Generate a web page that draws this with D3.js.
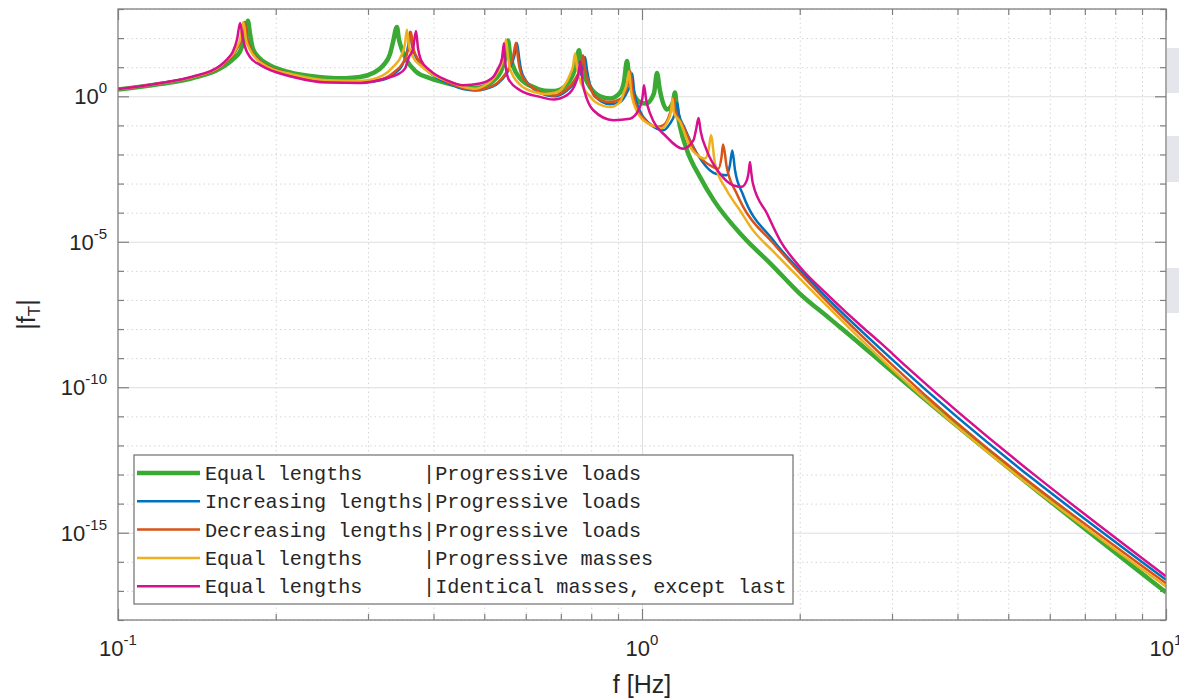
<!DOCTYPE html>
<html lang="en">
<head>
<meta charset="utf-8">
<title>|fT| transfer function</title>
<script src="https://cdn.jsdelivr.net/npm/d3@7"></script>
<style>
    body { margin: 0; background: #fff; }
    svg { display: block; font-family: "Liberation Sans", Arial, sans-serif; }
    .grid-major line { stroke: #dedede; stroke-width: 1; }
    .grid-minor line { stroke: #d6d6d6; stroke-width: 1; stroke-dasharray: 1.5 3; }
    .ticks line { stroke: #7f7f7f; stroke-width: 1.2; }
    .tick-label { fill: #262626; font-size: 22px; }
    .axis-label { fill: #262626; font-size: 25px; }
    .legend text { font-family: "Liberation Mono", monospace; font-size: 20.2px; fill: #262626; white-space: pre; }
</style>
</head>
<body>
<svg id="chart" width="1179" height="699"></svg>
<script>
// axis ranges and ticks
var freqDomain = [0.1, 10];
var magDomain = [1e-18, 1e3];
var xMajor = [0.1, 1, 10];
var xMinor = [0.2, 0.3, 0.4, 0.5, 0.6, 0.7, 0.8, 0.9, 2, 3, 4, 5, 6, 7, 8, 9];
var xLabelExp = [-1, 0, 1];
var yMajorExp = [0, -5, -10, -15];
var yMinorExp = d3.range(-18, 4).filter(function(e) { return e % 5 !== 0; });

// legend text
var legendLeft = ["Equal lengths", "Increasing lengths", "Decreasing lengths", "Equal lengths", "Equal lengths"];
var legendRight = ["Progressive loads", "Progressive loads", "Progressive loads", "Progressive masses", "Identical masses, except last"];
var seriesColors = ["#3aaa35", "#0072bd", "#d95319", "#edb120", "#d6108f"];
var seriesWidths = [4.5, 2.5, 2.5, 2.5, 2.5];

// [f in Hz, log10 |fT|]
var equalLoads = [
    [0.100,0.23],[0.120,0.42],[0.139,0.63],[0.1565,0.95],[0.1658,1.28],[0.171,1.55],[0.1745,2.0],[0.177,2.6],
    [0.1786,2.15],[0.181,1.62],[0.1866,1.3],[0.1925,1.12],[0.2084,0.86],[0.2325,0.70],[0.2506,0.64],[0.2712,0.62],
    [0.2896,0.66],[0.3067,0.8],[0.3203,1.05],[0.3304,1.45],[0.3347,1.85],[0.3406,2.38],[0.3437,1.95],[0.3483,1.6],
    [0.356,1.22],[0.3704,0.85],[0.3939,0.62],[0.430,0.42],[0.4555,0.33],[0.4801,0.29],[0.5018,0.35],[0.5196,0.52],
    [0.5405,0.95],[0.5501,1.45],[0.555,1.92],[0.5599,1.45],[0.5673,1.05],[0.5851,0.62],[0.6246,0.3],[0.6527,0.19],
    [0.6823,0.18],[0.7068,0.28],[0.7291,0.55],[0.7452,0.95],[0.7582,1.58],[0.7649,1.1],[0.7785,0.65],[0.7957,0.32],
    [0.8315,0.0],[0.8689,-0.08],[0.908,0.12],[0.9239,0.5],[0.9362,1.21],[0.9445,0.7],[0.9612,0.15],[0.9912,-0.2],
    [1.018,-0.25],[1.054,0.1],[1.068,0.8],[1.082,0.2],[1.116,-0.45],[1.146,-0.2],[1.156,0.13],[1.166,-0.45],
    [1.182,-1.05],[1.219,-1.86],[1.29,-2.77],[1.37,-3.57],[1.56,-4.83],[1.77,-5.80],[2.0,-6.78],[2.285,-7.65],
    [2.61,-8.52],[2.93,-9.30],[10,-17.05]
];
var increasingLoads = [
    [0.100,0.24],[0.120,0.44],[0.139,0.66],[0.1565,1.0],[0.162,1.25],[0.1658,1.42],[0.1687,1.65],[0.1718,1.95],
    [0.1745,2.55],[0.1766,1.95],[0.18,1.55],[0.1866,1.2],[0.1925,1.05],[0.2158,0.74],[0.251,0.52],[0.29,0.47],
    [0.3203,0.57],[0.3377,0.8],[0.3483,1.05],[0.3545,1.4],[0.358,1.75],[0.361,2.22],[0.3645,1.7],[0.3704,1.35],
    [0.3786,1.1],[0.3939,0.8],[0.43,0.42],[0.4555,0.25],[0.4801,0.2],[0.5018,0.25],[0.5311,0.45],[0.5501,0.75],
    [0.562,1.05],[0.57,1.35],[0.5775,1.82],[0.583,1.3],[0.588,0.9],[0.6,0.55],[0.6246,0.22],[0.6527,0.05],
    [0.6823,0.0],[0.7068,0.1],[0.7291,0.3],[0.7582,0.7],[0.7717,1.0],[0.7785,1.35],[0.7853,0.9],[0.7957,0.4],
    [0.8135,0.0],[0.8689,-0.27],[0.908,-0.2],[0.94,0.2],[0.9528,0.45],[0.958,0.78],[0.966,0.2],[0.9912,-0.5],
    [1.036,-0.95],[1.098,-1.17],[1.13,-0.95],[1.155,-0.6],[1.168,-0.22],[1.176,-0.6],[1.203,-1.05],[1.272,-1.95],
    [1.384,-2.66],[1.451,-2.71],[1.472,-2.35],[1.487,-1.86],[1.505,-2.54],[1.56,-3.4],[1.78,-4.95],[2.12,-6.44],
    [3.11,-9.30],[10,-16.62]
];
var decreasingLoads = [
    [0.100,0.24],[0.120,0.44],[0.139,0.66],[0.1565,1.0],[0.162,1.25],[0.1658,1.42],[0.1687,1.65],[0.1718,1.95],
    [0.1745,2.55],[0.1766,1.95],[0.18,1.55],[0.1866,1.2],[0.1925,1.05],[0.2158,0.74],[0.251,0.52],[0.29,0.48],
    [0.3203,0.6],[0.3377,0.85],[0.3483,1.1],[0.356,1.45],[0.3591,1.75],[0.3623,2.21],[0.3656,1.7],[0.3704,1.4],
    [0.3786,1.15],[0.3939,0.85],[0.43,0.45],[0.4555,0.28],[0.4801,0.22],[0.5018,0.27],[0.5311,0.48],[0.5501,0.8],
    [0.5599,1.05],[0.5673,1.35],[0.5748,1.84],[0.58,1.3],[0.5851,0.9],[0.598,0.55],[0.6246,0.25],[0.6527,0.08],
    [0.6823,0.03],[0.7068,0.15],[0.7291,0.35],[0.7516,0.7],[0.7649,1.0],[0.7717,1.41],[0.7785,0.95],[0.7957,0.35],
    [0.8135,-0.02],[0.8689,-0.2],[0.908,-0.1],[0.9362,0.3],[0.9445,0.55],[0.9507,0.86],[0.958,0.3],[0.9739,-0.3],
    [1.006,-0.75],[1.067,-1.05],[1.097,-1.0],[1.125,-0.7],[1.14,-0.35],[1.15,-0.05],[1.158,-0.5],[1.191,-0.94],
    [1.272,-1.97],[1.348,-2.37],[1.398,-2.49],[1.418,-2.1],[1.428,-1.66],[1.451,-2.43],[1.516,-3.34],[1.56,-3.8],
    [1.78,-5.05],[2.12,-6.55],[3.03,-9.30],[10,-16.74]
];
var equalMasses = [
    [0.100,0.24],[0.120,0.44],[0.139,0.66],[0.1565,1.02],[0.162,1.28],[0.1658,1.45],[0.1687,1.7],[0.171,1.95],
    [0.1735,2.55],[0.1755,1.95],[0.1786,1.6],[0.1834,1.3],[0.1925,1.02],[0.2158,0.75],[0.251,0.55],[0.29,0.53],
    [0.3203,0.72],[0.3347,1.0],[0.3483,1.45],[0.3529,1.8],[0.356,2.29],[0.3591,1.75],[0.3656,1.35],[0.3786,1.05],
    [0.3939,0.8],[0.43,0.5],[0.4555,0.33],[0.4801,0.26],[0.5018,0.38],[0.5196,0.6],[0.5311,0.85],[0.5405,1.15],
    [0.5453,1.45],[0.5501,1.95],[0.555,1.35],[0.5599,0.95],[0.5851,0.4],[0.6246,0.14],[0.6527,0.08],[0.6823,0.12],
    [0.7068,0.3],[0.7291,0.75],[0.7387,1.05],[0.7452,1.47],[0.7516,1.0],[0.7649,0.45],[0.7957,0.0],[0.8135,-0.19],
    [0.8689,-0.37],[0.908,-0.2],[0.9239,0.15],[0.9362,0.45],[0.9445,0.86],[0.9528,0.2],[0.9739,-0.45],[1.006,-0.82],
    [1.067,-1.05],[1.09,-1.1],[1.12,-0.85],[1.135,-0.55],[1.144,-0.08],[1.15,-0.55],[1.182,-0.88],[1.235,-1.74],
    [1.29,-2.08],[1.319,-2.14],[1.34,-1.85],[1.354,-1.34],[1.378,-2.31],[1.451,-3.23],[1.538,-3.92],[1.628,-4.6],
    [1.78,-5.33],[2.12,-6.72],[2.97,-9.30],[10,-16.85]
];
var identicalMasses = [
    [0.100,0.25],[0.120,0.45],[0.139,0.68],[0.1565,1.05],[0.162,1.3],[0.1658,1.55],[0.1687,1.95],[0.171,2.52],
    [0.1732,1.95],[0.1755,1.6],[0.1786,1.35],[0.1866,1.08],[0.1925,0.95],[0.2158,0.66],[0.251,0.47],[0.29,0.46],
    [0.325,0.62],[0.3406,0.74],[0.3529,0.95],[0.3591,1.35],[0.3656,1.62],[0.3704,2.24],[0.3737,1.65],[0.3786,1.25],
    [0.3939,0.89],[0.4238,0.55],[0.4555,0.38],[0.4907,0.44],[0.5196,0.66],[0.5311,0.95],[0.5405,1.3],[0.5453,1.82],
    [0.5475,1.3],[0.5558,0.6],[0.5851,0.21],[0.6387,-0.02],[0.677,-0.11],[0.718,0.03],[0.7505,0.55],[0.7582,0.9],
    [0.762,1.2],[0.7717,0.4],[0.7853,-0.1],[0.8074,-0.48],[0.8814,-0.82],[0.9486,-0.77],[0.9912,-0.37],[1.002,-0.05],
    [1.0088,0.38],[1.018,-0.1],[1.036,-0.59],[1.115,-1.40],[1.199,-1.80],[1.254,-1.51],[1.268,-1.15],[1.282,-0.75],
    [1.294,-1.2],[1.329,-1.86],[1.409,-2.66],[1.494,-3.06],[1.55,-3.11],[1.585,-2.89],[1.598,-2.6],[1.607,-2.26],
    [1.617,-2.65],[1.628,-3.0],[1.732,-4.03],[1.834,-4.95],[2.0,-5.86],[2.285,-6.90],[2.63,-7.92],[2.846,-8.46],
    [3.2,-9.30],[10,-16.50]
];
var seriesData = [equalLoads, increasingLoads, decreasingLoads, equalMasses, identicalMasses];

var margin = { top: 9, left: 118 },
    width = 1048,
    height = 611;

var svg = d3.select("#chart");

// the grey strips along the right edge of the screenshot
svg.selectAll(".strip")
    .data([[48, 45], [136, 46], [268, 45]])
    .enter().append("rect")
    .attr("x", 1167).attr("y", function(d) { return d[0]; })
    .attr("width", 12).attr("height", function(d) { return d[1]; })
    .attr("fill", "#e4e6ec");

var g = svg.append("g")
    .attr("transform", "translate(" + margin.left + "," + margin.top + ")");

var x = d3.scaleLog().domain(freqDomain).range([0, width]);
var y = d3.scaleLog().domain(magDomain).range([height, 0]);
function pow10(e) { return Math.pow(10, e); }

// grid
function grid(cls, axis) {
    var a = g.append("g").attr("class", cls).call(axis);
    a.select(".domain").remove();
    a.selectAll("text").remove();
    return a;
}
grid("grid-minor", d3.axisBottom(x).tickValues(xMinor).tickSize(height).tickFormat(""));
grid("grid-minor", d3.axisLeft(y).tickValues(yMinorExp.map(pow10)).tickSize(-width).tickFormat(""));
grid("grid-major", d3.axisBottom(x).tickValues([1]).tickSize(height).tickFormat(""));
grid("grid-major", d3.axisLeft(y).tickValues(yMajorExp.map(pow10)).tickSize(-width).tickFormat(""));

// curves
g.append("clipPath").attr("id", "plot-clip")
    .append("rect").attr("width", width).attr("height", height);

var line = d3.line()
    .x(function(d) { return x(d[0]); })
    .y(function(d) { return y(pow10(d[1])); })
    .curve(d3.curveMonotoneX);

g.append("g").attr("clip-path", "url(#plot-clip)")
    .selectAll("path")
    .data(seriesData)
    .enter().append("path")
    .attr("d", line)
    .attr("fill", "none")
    .attr("stroke", function(d, i) { return seriesColors[i]; })
    .attr("stroke-width", function(d, i) { return seriesWidths[i]; })
    .attr("stroke-linejoin", "round");

// ticks on all four sides, pointing inward
function ticks(axis, tx, ty) {
    var a = g.append("g").attr("class", "ticks")
        .attr("transform", "translate(" + tx + "," + ty + ")")
        .call(axis);
    a.select(".domain").remove();
    a.selectAll("text").remove();
}
ticks(d3.axisBottom(x).tickValues(xMinor).tickSize(-6), 0, height);
ticks(d3.axisBottom(x).tickValues(xMajor).tickSize(-11), 0, height);
ticks(d3.axisTop(x).tickValues(xMinor).tickSize(-6), 0, 0);
ticks(d3.axisTop(x).tickValues(xMajor).tickSize(-11), 0, 0);
ticks(d3.axisLeft(y).tickValues(yMinorExp.map(pow10)).tickSize(-6), 0, 0);
ticks(d3.axisLeft(y).tickValues(yMajorExp.map(pow10)).tickSize(-11), 0, 0);
ticks(d3.axisRight(y).tickValues(yMinorExp.map(pow10)).tickSize(-6), width, 0);
ticks(d3.axisRight(y).tickValues(yMajorExp.map(pow10)).tickSize(-11), width, 0);

g.append("rect")
    .attr("width", width).attr("height", height)
    .attr("fill", "none").attr("stroke", "#7f7f7f").attr("stroke-width", 1.3);

// tick labels with superscript exponents
function powerLabel(sel) {
    sel.append("tspan").text("10");
    sel.append("tspan")
        .attr("dy", -11)
        .style("font-size", "15px")
        .text(function(e) { return e; });
}
g.selectAll(".ylab")
    .data(yMajorExp)
    .enter().append("text")
    .attr("class", "tick-label")
    .attr("x", -11)
    .attr("y", function(e) { return y(pow10(e)) + 8; })
    .attr("text-anchor", "end")
    .call(powerLabel);

g.selectAll(".xlab")
    .data(xLabelExp)
    .enter().append("text")
    .attr("class", "tick-label")
    .attr("x", function(e) { return x(pow10(e)); })
    .attr("y", height + 36)
    .attr("text-anchor", "middle")
    .call(powerLabel);

// axis titles
g.append("text")
    .attr("class", "axis-label")
    .attr("x", x(1))
    .attr("y", height + 73)
    .attr("text-anchor", "middle")
    .text("f [Hz]");

var yTitle = g.append("text")
    .attr("class", "axis-label")
    .attr("transform", "translate(" + (35 - margin.left) + "," + (height / 2) + ") rotate(-90)")
    .attr("text-anchor", "middle");
yTitle.append("tspan").text("|f");
yTitle.append("tspan").attr("dy", 5).style("font-size", "17px").text("T");
yTitle.append("tspan").attr("dy", -5).text("|");

// legend
var legend = g.append("g").attr("class", "legend")
    .attr("transform", "translate(16,446)");

legend.append("rect")
    .attr("width", 659).attr("height", 149)
    .attr("fill", "#fff").attr("stroke", "#6f6f6f").attr("stroke-width", 1.2);

var rows = legend.selectAll(".row")
    .data(legendLeft)
    .enter().append("g")
    .attr("transform", function(d, i) { return "translate(0," + (18 + i * 28.3) + ")"; });

rows.append("line")
    .attr("x1", 3).attr("x2", 66)
    .attr("stroke", function(d, i) { return seriesColors[i]; })
    .attr("stroke-width", function(d, i) { return seriesWidths[i]; });

rows.append("text")
    .attr("x", 71)
    .attr("y", 7)
    .text(function(d, i) { return d.padEnd(18) + "|" + legendRight[i]; });
</script>
</body>
</html>
